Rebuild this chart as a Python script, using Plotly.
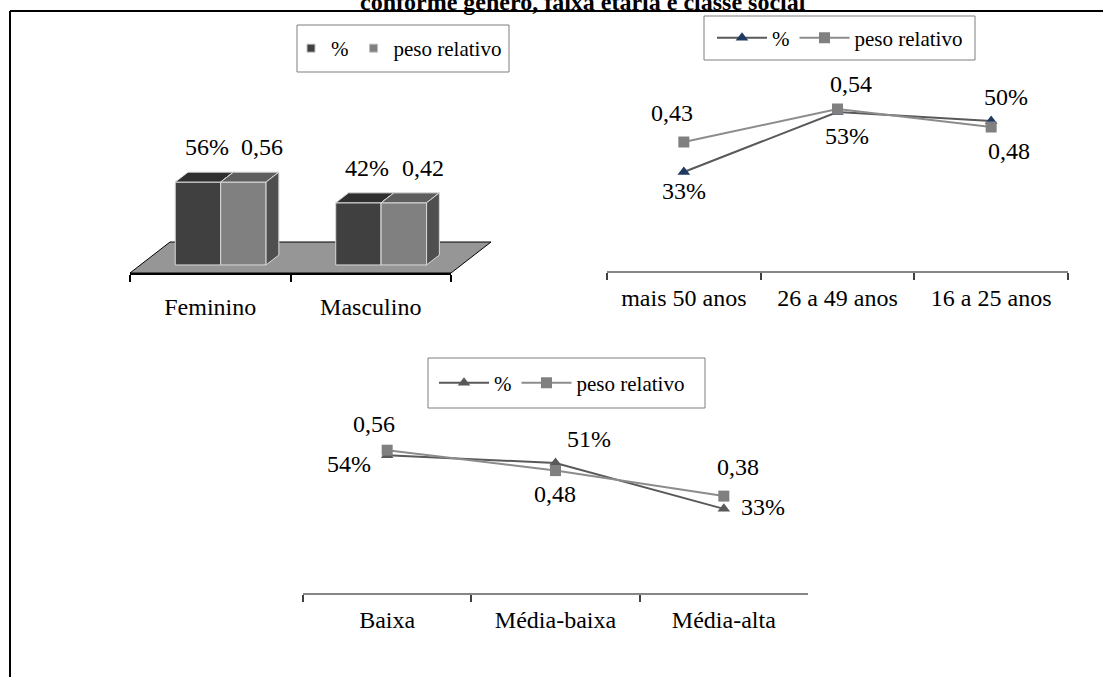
import plotly.graph_objects as go

# ---------------- data ----------------
genero = ["Feminino", "Masculino"]
genero_pct = [0.56, 0.42]
genero_peso = [0.56, 0.42]

faixa = ["mais 50 anos", "26 a 49 anos", "16 a 25 anos"]
faixa_pct = [0.33, 0.53, 0.50]
faixa_peso = [0.43, 0.54, 0.48]

classe = ["Baixa", "Média-baixa", "Média-alta"]
classe_pct = [0.54, 0.51, 0.33]
classe_peso = [0.56, 0.48, 0.38]

titulo = "conforme gênero, faixa etária e classe social"
serie_pct = "%"
serie_peso = "peso relativo"

# ---------------- layout helpers ----------------
W, H = 1103, 677
FONT = "Liberation Serif, Times New Roman, serif"
LABEL_SIZE = 24


def fx(px):
    return px / W


def fy(py):
    return 1 - py / H


def pct(v):
    return f"{round(v * 100)}%"


def dec(v):
    return f"{v:.2f}".replace(".", ",")


label_font = dict(family=FONT, size=LABEL_SIZE, color="#000000")
fig = go.Figure()

# ---------------- panel 1: 3-D style columns ----------------
AX1_L, AX1_R, AX1_BASE = 130, 451, 273
CAT_PX = (AX1_R - AX1_L) / len(genero)
UNIT_PX = 148
DX = 40 / CAT_PX          # floor depth, x offset in category units
DY = 31 / UNIT_PX         # floor depth, y offset in value units
Z0, Z1 = 0.26, 0.58       # column front / back depth
BW = 0.283                # column width (category units)


def proj(x, y, z):
    return x + z * DX, y + z * DY


def poly(points):
    xs, ys = [], []
    for p in points:
        px_, py_ = proj(*p)
        xs.append(px_)
        ys.append(py_)
    return xs, ys


def faces(values, offset):
    fr_x, fr_y, tp_x, tp_y, sd_x, sd_y = [], [], [], [], [], []
    for i, v in enumerate(values):
        x0, x1 = i + offset, i + offset + BW
        a = poly([(x0, 0, Z0), (x1, 0, Z0), (x1, v, Z0), (x0, v, Z0), (x0, 0, Z0)])
        b = poly([(x0, v, Z0), (x1, v, Z0), (x1, v, Z1), (x0, v, Z1), (x0, v, Z0)])
        c = poly([(x1, 0, Z0), (x1, 0, Z1), (x1, v, Z1), (x1, v, Z0), (x1, 0, Z0)])
        for (xs, ys), (ox, oy) in zip((a, b, c), ((fr_x, fr_y), (tp_x, tp_y), (sd_x, sd_y))):
            ox.extend(xs + [None])
            oy.extend(ys + [None])
    return (fr_x, fr_y), (tp_x, tp_y), (sd_x, sd_y)


n1 = len(genero)
floor_x, floor_y = poly([(-0.5, 0, 0), (n1 - 0.5, 0, 0), (n1 - 0.5, 0, 1), (-0.5, 0, 1), (-0.5, 0, 0)])
fig.add_trace(go.Scatter(x=floor_x, y=floor_y, fill="toself", fillcolor="#969696",
                         mode="lines", line=dict(color="#000000", width=1),
                         hoverinfo="skip", showlegend=False, xaxis="x", yaxis="y"))

edge = dict(color="#d9d9d9", width=1)
for values, offset, cols in ((genero_pct, -BW, ("#404040", "#2f2f2f", "#3a3a3a")),
                             (genero_peso, 0.0, ("#808080", "#5e5e5e", "#4f4f4f"))):
    for (xs, ys), col in zip(faces(values, offset), cols):
        fig.add_trace(go.Scatter(x=xs, y=ys, fill="toself", fillcolor=col, mode="lines",
                                 line=edge, hoverinfo="skip", showlegend=False,
                                 xaxis="x", yaxis="y"))

# value labels above the columns
for values, offset, fmt, shift in ((genero_pct, -BW, pct, -4), (genero_peso, 0.0, dec, 6)):
    for i, v in enumerate(values):
        px_, py_ = proj(i + offset + BW / 2, v, Z1)
        fig.add_annotation(x=px_, y=py_, xref="x", yref="y", text=fmt(v), showarrow=False,
                           xanchor="center", yanchor="bottom", xshift=shift, yshift=10,
                           font=label_font)

# category positions of panel 1 (carries the category axis)
fig.add_trace(go.Scatter(x=list(range(n1)), y=[0] * n1, mode="markers",
                         marker=dict(opacity=0), hoverinfo="skip", showlegend=False,
                         xaxis="x2", yaxis="y2"))

# legend entries of panel 1
for name, col in ((serie_pct, "#404040"), (serie_peso, "#808080")):
    fig.add_trace(go.Scatter(x=[None], y=[None], mode="markers", name=name,
                             marker=dict(symbol="square", size=8, color=col,
                                         line=dict(color="#bfbfbf", width=1)),
                             legend="legend", xaxis="x", yaxis="y"))

# ---------------- line panels ----------------
DARK_LINE = "#595959"
LIGHT_LINE = "#8c8c8c"


def line_panel(cats, pct_vals, peso_vals, xa, ya, leg, tri_color, pct_offsets, peso_offsets):
    fig.add_trace(go.Scatter(x=cats, y=pct_vals, name=serie_pct, mode="lines+markers",
                             line=dict(color=DARK_LINE, width=2),
                             marker=dict(symbol="triangle-up", size=11, color=tri_color),
                             cliponaxis=False, legend=leg, xaxis=xa, yaxis=ya))
    fig.add_trace(go.Scatter(x=cats, y=peso_vals, name=serie_peso, mode="lines+markers",
                             line=dict(color=LIGHT_LINE, width=2),
                             marker=dict(symbol="square", size=11, color="#808080"),
                             cliponaxis=False, legend=leg, xaxis=xa, yaxis=ya))
    # value labels, offset (in px) from their point
    for vals, fmt, offs in ((pct_vals, pct, pct_offsets), (peso_vals, dec, peso_offsets)):
        for c, v, (dx, dy) in zip(cats, vals, offs):
            fig.add_annotation(x=c, y=v, xref=xa, yref=ya, text=fmt(v), showarrow=False,
                               xanchor="center", yanchor="middle", xshift=dx, yshift=dy,
                               font=label_font)


line_panel(faixa, faixa_pct, faixa_peso, "x3", "y3", "legend2", "#1f3a60",
           pct_offsets=[(0, -19), (10, -24), (15, 24)],
           peso_offsets=[(-12, 29), (14, 25), (18, -24)])
line_panel(classe, classe_pct, classe_peso, "x4", "y4", "legend3", "#595959",
           pct_offsets=[(-38, -9), (33, 24), (39, 2)],
           peso_offsets=[(-13, 26), (-1, -23), (14, 29)])

# ---------------- axes ----------------
hidden = dict(visible=False, showgrid=False, zeroline=False, automargin=False)
tickfont = dict(family=FONT, size=LABEL_SIZE, color="#000000")
cat_axis = dict(type="category", tickson="boundaries", ticks="outside", ticklen=7,
                tickcolor="#404040", tickwidth=1.5, showline=True, linecolor="#868686",
                linewidth=1.5, showgrid=False, zeroline=False, tickfont=tickfont,
                ticklabelstandoff=4, automargin=False, fixedrange=True)

# panel 1 drawing space (extended to the right so the floor is not clipped)
DRAW_R, DRAW_T, DRAW_B = 500, 100, 280
fig.update_layout(
    xaxis=dict(domain=[fx(AX1_L), fx(DRAW_R)],
               range=[-0.5, -0.5 + (DRAW_R - AX1_L) / CAT_PX], **hidden),
    yaxis=dict(domain=[fy(DRAW_B), fy(DRAW_T)],
               range=[(AX1_BASE - DRAW_B) / UNIT_PX, (AX1_BASE - DRAW_T) / UNIT_PX], **hidden),
    # panel 1 category axis
    xaxis2=dict(domain=[fx(AX1_L), fx(AX1_R)], range=[-0.5, n1 - 0.5], anchor="y2",
                tickmode="array", tickvals=list(range(n1)), ticktext=genero, ticks="",
                showline=True, linecolor="#000000", linewidth=1.5,
                minor=dict(tickmode="array", tickvals=[i - 0.5 for i in range(n1 + 1)],
                           ticks="outside", ticklen=7, tickcolor="#000000", tickwidth=1.5,
                           showgrid=False),
                showgrid=False, zeroline=False, tickfont=tickfont,
                ticklabelstandoff=11, automargin=False),
    yaxis2=dict(domain=[fy(AX1_BASE), fy(AX1_BASE - 50)], range=[0, 1], anchor="x2", **hidden),
    # panel 2
    xaxis3=dict(domain=[fx(607), fx(1068)], anchor="y3", range=[-0.5, len(faixa) - 0.5], **cat_axis),
    yaxis3=dict(domain=[fy(271), fy(91)], range=[0, 0.6], anchor="x3", **hidden),
    # panel 3
    xaxis4=dict(domain=[fx(303), fx(808)], anchor="y4", range=[-0.5, len(classe) - 0.5], **cat_axis),
    yaxis4=dict(domain=[fy(593), fy(440)], range=[0, 0.6], anchor="x4", **hidden),
)

# ---------------- legends (boxes drawn as frames around them) ----------------
leg_common = dict(orientation="h", xanchor="center", yanchor="middle",
                  bgcolor="rgba(0,0,0,0)", borderwidth=0,
                  font=dict(family=FONT, size=21, color="#000000"))
leg_boxes = {"legend": (297, 25, 509, 72), "legend2": (704, 16, 975, 60),
             "legend3": (428, 358, 705, 408)}
leg_centers = {"legend": (399, 48.5), "legend2": (840, 38), "legend3": (562, 383)}
leg_itemwidth = {"legend": 30, "legend2": 50, "legend3": 50}
for key, (x0, y0, x1, y1) in leg_boxes.items():
    cx, cy = leg_centers[key]
    fig.update_layout({key: dict(x=fx(cx), y=fy(cy), itemwidth=leg_itemwidth[key], **leg_common)})
    fig.add_shape(type="rect", xref="paper", yref="paper", x0=fx(x0), x1=fx(x1),
                  y0=fy(y1), y1=fy(y0), line=dict(color="#7f7f7f", width=1),
                  fillcolor="rgba(0,0,0,0)")

# ---------------- frame and title ----------------
fig.add_shape(type="line", xref="paper", yref="paper", x0=fx(10), x1=fx(W), y0=fy(11), y1=fy(11),
              line=dict(color="#000000", width=2))
fig.add_shape(type="line", xref="paper", yref="paper", x0=fx(10), x1=fx(10), y0=fy(11), y1=fy(H + 2),
              line=dict(color="#000000", width=2))
fig.add_annotation(text=f"<b>{titulo}</b>", xref="paper", yref="paper", x=fx(583), y=fy(2),
                   xanchor="center", yanchor="middle", showarrow=False,
                   font=dict(family=FONT, size=24, color="#000000"))

fig.update_layout(width=W, height=H, margin=dict(l=0, r=0, t=0, b=0, autoexpand=False),
                  paper_bgcolor="#ffffff", plot_bgcolor="rgba(0,0,0,0)",
                  hovermode=False)

fig.write_html("out.html")
